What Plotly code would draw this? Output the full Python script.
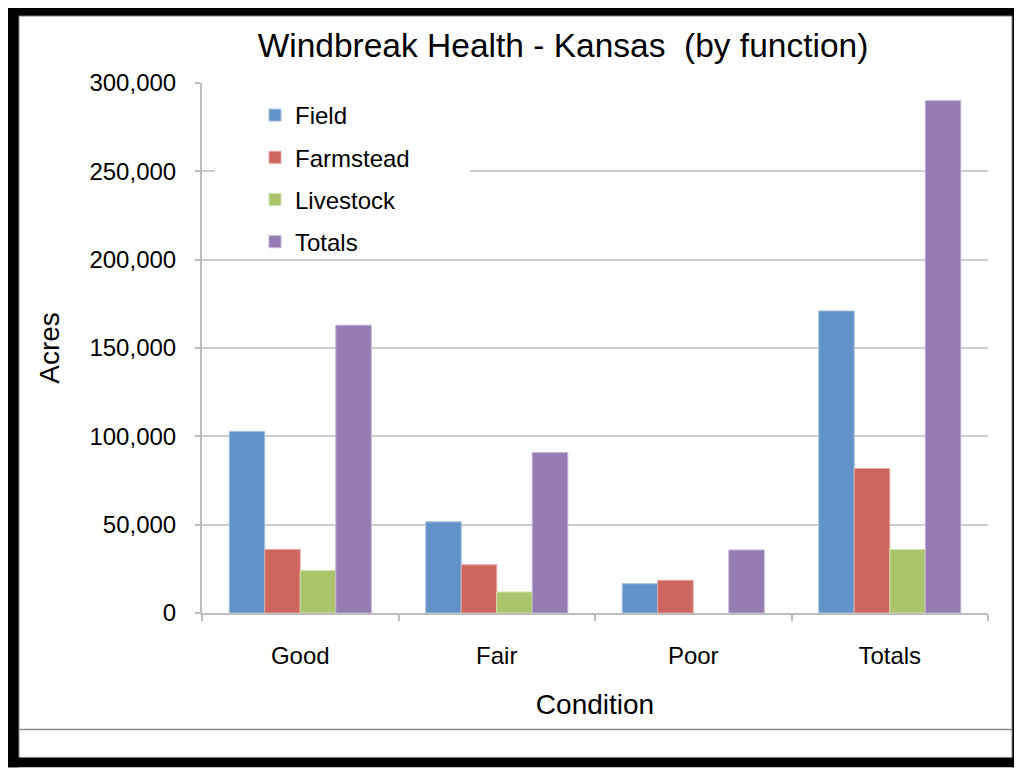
import plotly.graph_objects as go

categories = ["Good", "Fair", "Poor", "Totals"]
field = [102800, 51600, 16600, 171000]
farmstead = [36000, 27300, 18500, 81800]
livestock = [24100, 11900, None, 36000]
totals = [162900, 90800, 35700, 290000]

series_names = ["Field", "Farmstead", "Livestock", "Totals"]
series_values = [field, farmstead, livestock, totals]
colors = ["#6193c8", "#cd665f", "#abc56d", "#947bb1"]
edge_colors = ["#a6c3e3", "#e4a8a4", "#cfe0a8", "#c3b4d6"]

# page body has an 8px margin; figure coordinates = reference pixels - 8
OFF = 8
W, H = 1022 - OFF, 768 - OFF
L = 202 - OFF
T = 83 - OFF
R = W - (988 - OFF)
B = H - (613.5 - OFF)
PW, PH = W - L - R, H - T - B

FONT = "Liberation Sans, Arial, Helvetica, sans-serif"


def px(x):
    return (x - OFF - L) / PW


def py(y):
    return (H - B - (y - OFF)) / PH


fig = go.Figure()
for i, (name, vals) in enumerate(zip(series_names, series_values)):
    fig.add_trace(go.Bar(
        name=name, x=categories, y=vals,
        marker=dict(color=colors[i], line=dict(color=edge_colors[i], width=1)),
        legendgroup=name,
    ))

shapes = []
# white patch behind legend (breaks gridline like the reference)
shapes.append(dict(type="rect", xref="paper", yref="paper",
                   x0=px(215), x1=px(470), y0=py(250), y1=py(95),
                   fillcolor="white", line=dict(width=0), layer="above"))
# bottom separator line
shapes.append(dict(type="line", xref="paper", yref="paper",
                   x0=px(19), x1=px(1012), y0=py(730), y1=py(730),
                   line=dict(color="#8c8c8c", width=1.5)))
# black frame
for (x0, y0, x1, y1) in [(8, 5, 1022, 16), (8, 5, 19, 768),
                         (1012, 5, 1022, 768), (8, 758, 1022, 768)]:
    shapes.append(dict(type="rect", xref="paper", yref="paper",
                       x0=px(x0), x1=px(x1), y0=py(y1), y1=py(y0),
                       fillcolor="black", line=dict(width=0)))
# thin gray inner edges of frame
shapes.append(dict(type="rect", xref="paper", yref="paper",
                   x0=px(19), x1=px(1012), y0=py(758), y1=py(16),
                   fillcolor="rgba(0,0,0,0)", line=dict(color="#888888", width=1)))

fig.update_layout(
    width=W, height=H,
    margin=dict(l=L, r=R, t=T, b=B, autoexpand=False),
    paper_bgcolor="white", plot_bgcolor="white",
    font=dict(family=FONT, color="black", size=24),
    barmode="group", bargap=0.277, bargroupgap=0,
    title=dict(text="Windbreak Health - Kansas  (by function)",
               x=px(563), xref="paper", xanchor="center",
               y=1 - (45 - OFF) / H, yanchor="middle",
               font=dict(size=33.5, family=FONT, color="black")),
    legend=dict(x=px(255), y=py(93), xanchor="left", yanchor="top",
                bgcolor="rgba(0,0,0,0)", borderwidth=0,
                font=dict(size=24, family=FONT, color="black"),
                traceorder="grouped", tracegroupgap=8),
    shapes=shapes,
    xaxis=dict(
        type="category",
        showline=True, linecolor="#bdbdbd", linewidth=2,
        ticks="outside", tickson="boundaries", ticklen=6, tickcolor="#bdbdbd",
        tickwidth=1.5,
        showgrid=False,
        tickfont=dict(size=24, family=FONT, color="black"),
        ticklabelstandoff=20,
        title=dict(text="Condition", font=dict(size=28, family=FONT, color="black"),
                   standoff=27),
    ),
    yaxis=dict(
        range=[0, 300000], tick0=0, dtick=50000,
        tickformat=",d",
        showline=True, linecolor="#bdbdbd", linewidth=2,
        ticks="outside", ticklen=5, tickcolor="#bdbdbd", tickwidth=1.5,
        showgrid=True, gridcolor="#cdcdcd", gridwidth=1.5,
        zeroline=False,
        tickfont=dict(size=24, family=FONT, color="black"),
        ticklabelstandoff=14,
        title=dict(text="Acres", font=dict(size=28, family=FONT, color="black"),
                   standoff=22),
    ),
)

fig.write_html("out.html")
